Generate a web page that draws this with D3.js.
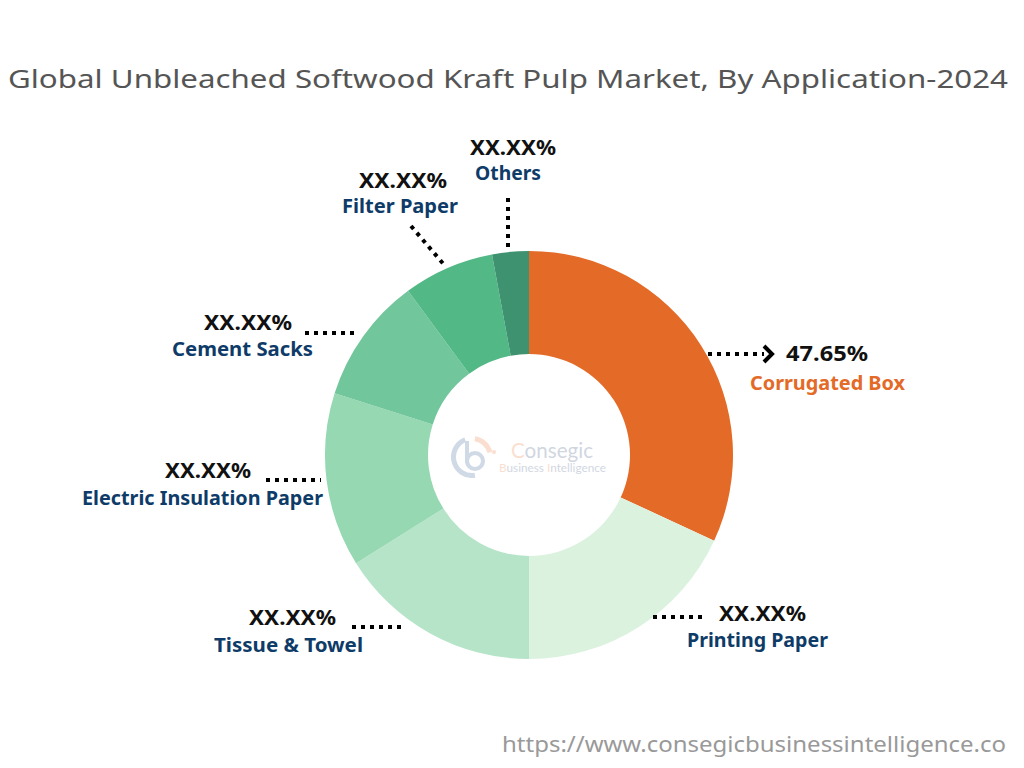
<!DOCTYPE html>
<html><head><meta charset="utf-8">
<script src="https://cdn.jsdelivr.net/npm/d3@7"></script>
<style>body{margin:0;background:#fff;} svg{display:block;}</style>
</head><body>
<svg id="chart" width="1024" height="768"></svg>
<script>
const categories = ["Corrugated Box","Printing Paper","Tissue & Towel","Electric Insulation Paper","Cement Sacks","Filter Paper","Others"];
const values = [31.9, 18.1, 16.1, 13.8, 10.0, 7.2, 2.9];
const valueLabels = ["47.65%","XX.XX%","XX.XX%","XX.XX%","XX.XX%","XX.XX%","XX.XX%"];
const colors = ["#E36A27","#DBF2DF","#B6E4C8","#95D8B1","#72C69C","#52B886","#3E9270"];

const svg = d3.select("#chart");
const W = 1024, H = 768;
svg.append("rect").attr("width",W).attr("height",H).attr("fill","#fff");

svg.append("text").attr("x",8).attr("y",88)
  .attr("font-family","'Noto Sans', Inter, sans-serif").attr("font-size",26)
  .attr("textLength",1000).attr("lengthAdjust","spacingAndGlyphs")
  .attr("fill","#555").text("Global Unbleached Softwood Kraft Pulp Market, By Application-2024");

const cx = 529, cy = 455, rO = 204, rI = 101;
const g = svg.append("g").attr("transform",`translate(${cx},${cy})`);
const pie = d3.pie().sort(null).value(d=>d)(values);
const arc = d3.arc().innerRadius(rI).outerRadius(rO);
g.selectAll("path").data(pie).join("path").attr("d",arc).attr("fill",(d,i)=>colors[i]);

// logo (faded)
const logo = svg.append("g").attr("opacity",0.35);
const lg = logo.append("g").attr("transform","translate(472,457)");
lg.append("path").attr("d",d3.arc().innerRadius(16).outerRadius(21).startAngle(-Math.PI*0.12).endAngle(-Math.PI*1.05)())
  .attr("fill","#7C93B8");
lg.append("path").attr("d",d3.arc().innerRadius(16).outerRadius(21).startAngle(Math.PI*0.05).endAngle(Math.PI*0.42)())
  .attr("fill","#F2A57A");
lg.append("circle").attr("r",8).attr("cx",3).attr("cy",4).attr("fill","none").attr("stroke","#7C93B8").attr("stroke-width",4);
lg.append("rect").attr("x",-7).attr("y",-16).attr("width",4).attr("height",22).attr("fill","#7C93B8");
lg.append("circle").attr("r",2).attr("cx",22).attr("cy",-5).attr("fill","#F2A57A");
logo.append("text").attr("x",511).attr("y",458).attr("font-family","Lato, sans-serif").attr("font-size",21)
  .attr("textLength",82).attr("lengthAdjust","spacingAndGlyphs")
  .attr("fill","#7C8CA8").html('<tspan fill="#F2A57A">C</tspan>onsegic');
logo.append("text").attr("x",499).attr("y",472).attr("font-family","Lato, sans-serif").attr("font-size",11)
  .attr("textLength",107).attr("lengthAdjust","spacingAndGlyphs")
  .attr("fill","#7C8CA8").html('<tspan fill="#F2A57A">B</tspan>usiness <tspan fill="#F2A57A">I</tspan>ntelligence');

// labels
const labelPos = [
  {pct:[786,361,82], cat:[750,390,155], line:[[708,354],[764,354]]},
  {pct:[719,621,87], cat:[687,647,141], line:[[653,617],[706,617]]},
  {pct:[249,625,87], cat:[214,652,149], line:[[352,627],[406,627]]},
  {pct:[165,478,86], cat:[82,505,241], line:[[266,480],[321,480]]},
  {pct:[204,330,88], cat:[172,356,141], line:[[305,333],[359,333]]},
  {pct:[359,188,88], cat:[342,213,116], line:[[411,226],[446,267]]},
  {pct:[470,155,86], cat:[475,180,66], line:[[508,198],[508,252]]}
];
const lab = svg.append("g");
categories.forEach((c,i)=>{
  const p = labelPos[i];
  lab.append("line").attr("x1",p.line[0][0]).attr("y1",p.line[0][1]).attr("x2",p.line[1][0]).attr("y2",p.line[1][1])
    .attr("stroke","#000").attr("stroke-width",4).attr("stroke-dasharray","4,5");
  lab.append("text").attr("x",p.pct[0]).attr("y",p.pct[1])
    .attr("textLength",p.pct[2]).attr("lengthAdjust","spacingAndGlyphs")
    .attr("font-family","'Noto Sans', Roboto, sans-serif").attr("font-weight",700).attr("font-size",22)
    .attr("fill","#111").text(valueLabels[i]);
  lab.append("text").attr("x",p.cat[0]).attr("y",p.cat[1])
    .attr("textLength",p.cat[2]).attr("lengthAdjust","spacingAndGlyphs")
    .attr("font-family","'Noto Sans', Roboto, sans-serif").attr("font-weight",700).attr("font-size",19.5)
    .attr("fill", i===0 ? "#E36A27" : "#0E3B68").text(c);
});
// arrow head for corrugated box
lab.append("path").attr("d","M764,346 L772,354 L764,362").attr("fill","none").attr("stroke","#000").attr("stroke-width",4);

svg.append("text").attr("x",502).attr("y",752)
  .attr("font-family","'Noto Sans', 'Open Sans', sans-serif").attr("font-size",22)
  .attr("textLength",504).attr("lengthAdjust","spacingAndGlyphs")
  .attr("fill","#999").text("https://www.consegicbusinessintelligence.co");
</script>
</body></html>
